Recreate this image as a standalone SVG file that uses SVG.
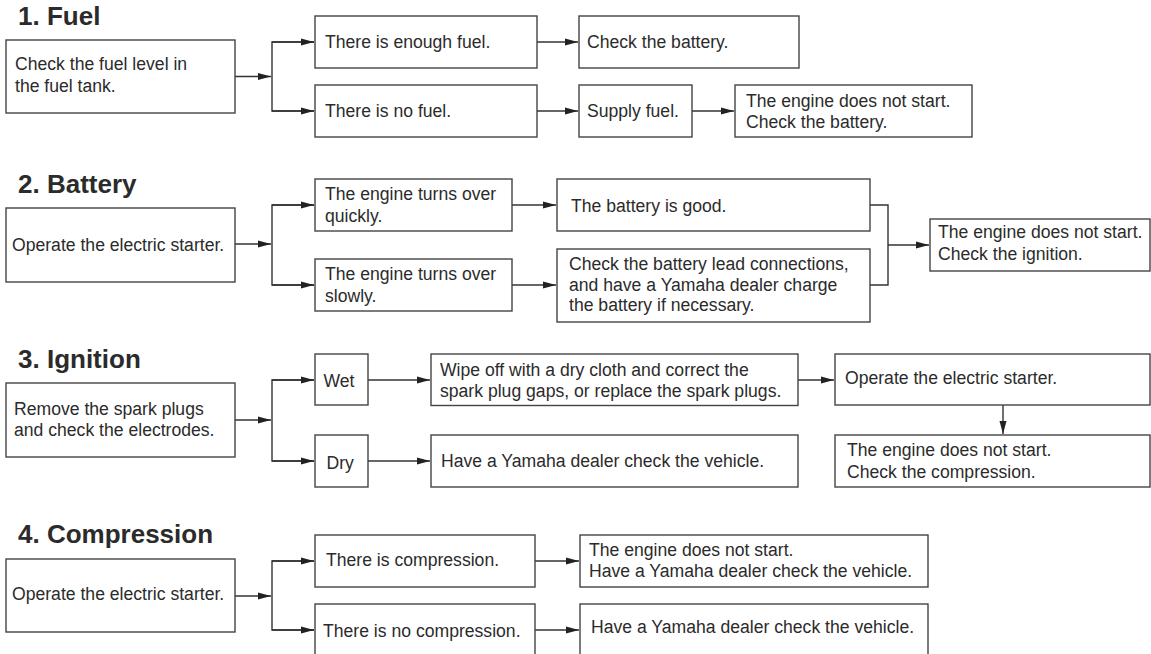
<svg xmlns="http://www.w3.org/2000/svg" width="1151" height="654" viewBox="0 0 1151 654">
<defs>
<style>
.box{fill:#fff;stroke:#444;stroke-width:1.4}
.t{font-family:"Liberation Sans",Arial,Helvetica,sans-serif;font-size:17.6px;fill:#2b2b2b}
.h{font-family:"Liberation Sans",Arial,Helvetica,sans-serif;font-size:26px;font-weight:bold;fill:#2b2b2b}
.c{fill:none;stroke:#333;stroke-width:1.4}
.a{marker-end:url(#arr)}
</style>
<marker id="arr" markerUnits="userSpaceOnUse" markerWidth="14" markerHeight="8" refX="13" refY="4" orient="auto">
<path d="M0,0.5 L13,4 L0,7.5 z" fill="#222"/>
</marker>
</defs>
<rect width="1151" height="654" fill="#fff"/>

<g id="titles">
<text class="h" x="18" y="25">1. Fuel</text>
<text class="h" x="18" y="193">2. Battery</text>
<text class="h" x="18" y="368">3. Ignition</text>
<text class="h" x="18" y="543">4. Compression</text>
</g>

<g id="connectors">
<!-- section 1 -->
<line class="c a" x1="235" y1="76.5" x2="271" y2="76.5"/>
<polyline class="c" points="314,42 272,42 272,111 314,111"/>
<line class="c a" x1="272" y1="42" x2="314" y2="42"/>
<line class="c a" x1="272" y1="111" x2="314" y2="111"/>
<line class="c a" x1="537" y1="42" x2="578" y2="42"/>
<line class="c a" x1="537" y1="111" x2="578" y2="111"/>
<line class="c a" x1="692" y1="111" x2="734" y2="111"/>
<!-- section 2 -->
<line class="c a" x1="235" y1="244" x2="271" y2="244"/>
<polyline class="c" points="314,205 272,205 272,285 314,285"/>
<line class="c a" x1="272" y1="205" x2="314" y2="205"/>
<line class="c a" x1="272" y1="285" x2="314" y2="285"/>
<line class="c a" x1="512" y1="205" x2="556" y2="205"/>
<line class="c a" x1="512" y1="285" x2="556" y2="285"/>
<polyline class="c" points="870,205 888,205 888,285 870,285"/>
<line class="c a" x1="888" y1="245" x2="929" y2="245"/>
<!-- section 3 -->
<line class="c a" x1="235" y1="420" x2="271" y2="420"/>
<polyline class="c" points="314,380 272,380 272,461 314,461"/>
<line class="c a" x1="272" y1="380" x2="314" y2="380"/>
<line class="c a" x1="272" y1="461" x2="314" y2="461"/>
<line class="c a" x1="368" y1="380" x2="430" y2="380"/>
<line class="c a" x1="368" y1="461" x2="430" y2="461"/>
<line class="c a" x1="798" y1="380" x2="834" y2="380"/>
<line class="c a" x1="1003" y1="405" x2="1003" y2="434"/>
<!-- section 4 -->
<line class="c a" x1="235" y1="596" x2="271" y2="596"/>
<polyline class="c" points="314,561 272,561 272,630 314,630"/>
<line class="c a" x1="272" y1="561" x2="314" y2="561"/>
<line class="c a" x1="272" y1="630" x2="314" y2="630"/>
<line class="c a" x1="535" y1="561" x2="579" y2="561"/>
<line class="c a" x1="535" y1="630" x2="579" y2="630"/>
</g>

<!-- Section 1 -->
<g id="n1-check-fuel"><rect class="box" x="6" y="40" width="229" height="73"/>
<text class="t" x="15" y="70">Check the fuel level in</text><text class="t" x="15" y="92">the fuel tank.</text></g>
<g id="n1-enough"><rect class="box" x="315" y="16" width="222" height="52"/>
<text class="t" x="325" y="48">There is enough fuel.</text></g>
<g id="n1-check-battery"><rect class="box" x="579" y="16" width="220" height="52"/>
<text class="t" x="587" y="48">Check the battery.</text></g>
<g id="n1-nofuel"><rect class="box" x="315" y="85" width="222" height="52"/>
<text class="t" x="325" y="117">There is no fuel.</text></g>
<g id="n1-supply"><rect class="box" x="579" y="85" width="113" height="52"/>
<text class="t" x="587" y="117">Supply fuel.</text></g>
<g id="n1-nostart"><rect class="box" x="735" y="85" width="237" height="52"/>
<text class="t" x="746" y="107">The engine does not start.</text><text class="t" x="746" y="128">Check the battery.</text></g>

<!-- Section 2 -->
<g id="n2-operate"><rect class="box" x="6" y="208" width="229" height="74"/>
<text class="t" x="12" y="251">Operate the electric starter.</text></g>
<g id="n2-quick"><rect class="box" x="315" y="179" width="197" height="52"/>
<text class="t" x="325" y="200">The engine turns over</text><text class="t" x="325" y="222">quickly.</text></g>
<g id="n2-slow"><rect class="box" x="315" y="259" width="197" height="52"/>
<text class="t" x="325" y="280">The engine turns over</text><text class="t" x="325" y="302">slowly.</text></g>
<g id="n2-good"><rect class="box" x="557" y="179" width="313" height="52"/>
<text class="t" x="571" y="212">The battery is good.</text></g>
<g id="n2-lead"><rect class="box" x="557" y="249" width="313" height="73"/>
<text class="t" x="569" y="270">Check the battery lead connections,</text><text class="t" x="569" y="290.5">and have a Yamaha dealer charge</text><text class="t" x="569" y="311">the battery if necessary.</text></g>
<g id="n2-nostart"><rect class="box" x="930" y="219" width="220" height="52"/>
<text class="t" x="938" y="238">The engine does not start.</text><text class="t" x="938" y="260">Check the ignition.</text></g>

<!-- Section 3 -->
<g id="n3-remove"><rect class="box" x="6" y="383" width="229" height="74"/>
<text class="t" x="14" y="415">Remove the spark plugs</text><text class="t" x="14" y="435.5">and check the electrodes.</text></g>
<g id="n3-wet"><rect class="box" x="315" y="354" width="53" height="51"/>
<text class="t" x="323.5" y="387">Wet</text></g>
<g id="n3-dry"><rect class="box" x="315" y="435" width="53" height="52"/>
<text class="t" x="326.5" y="469">Dry</text></g>
<g id="n3-wipe"><rect class="box" x="431" y="354" width="367" height="51.5"/>
<text class="t" x="440" y="376">Wipe off with a dry cloth and correct the</text><text class="t" x="440" y="397">spark plug gaps, or replace the spark plugs.</text></g>
<g id="n3-dealer"><rect class="box" x="431" y="435" width="367" height="52"/>
<text class="t" x="441" y="467">Have a Yamaha dealer check the vehicle.</text></g>
<g id="n3-operate"><rect class="box" x="835" y="354" width="315" height="51"/>
<text class="t" x="845" y="384">Operate the electric starter.</text></g>
<g id="n3-nostart"><rect class="box" x="835" y="435" width="315" height="52"/>
<text class="t" x="847" y="456">The engine does not start.</text><text class="t" x="847" y="478">Check the compression.</text></g>

<!-- Section 4 -->
<g id="n4-operate"><rect class="box" x="6" y="559" width="229" height="73"/>
<text class="t" x="12" y="600">Operate the electric starter.</text></g>
<g id="n4-comp"><rect class="box" x="315" y="535" width="220" height="52"/>
<text class="t" x="326" y="566">There is compression.</text></g>
<g id="n4-nocomp"><rect class="box" x="315" y="604" width="220" height="60"/>
<text class="t" x="323" y="637">There is no compression.</text></g>
<g id="n4-nostart"><rect class="box" x="580" y="535" width="348" height="52"/>
<text class="t" x="589" y="556">The engine does not start.</text><text class="t" x="589" y="577">Have a Yamaha dealer check the vehicle.</text></g>
<g id="n4-dealer"><rect class="box" x="580" y="604" width="348" height="60"/>
<text class="t" x="591" y="633">Have a Yamaha dealer check the vehicle.</text></g>
</svg>
